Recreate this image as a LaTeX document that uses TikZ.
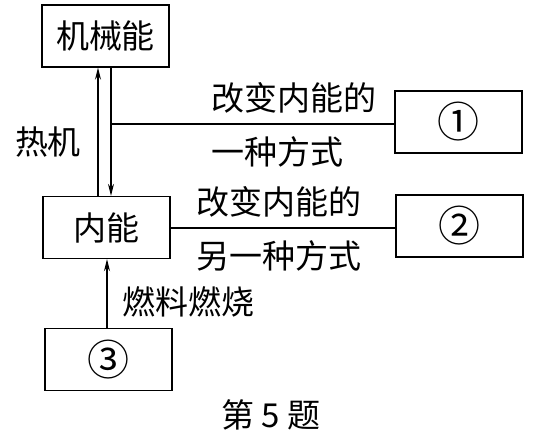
\documentclass[tikz,border=0pt]{standalone}
\usepackage{fontspec}
\setmainfont{Noto Sans CJK SC}
\usetikzlibrary{arrows.meta}
\begin{document}
\begin{tikzpicture}[x=1pt,y=-1pt,
  box/.style={draw,line width=1.3pt,minimum width=127pt,minimum height=62pt,inner sep=0pt,font=\fontsize{33}{35}\selectfont},
  num/.style={box,font=\fontsize{42}{44}\selectfont},
  lbl/.style={inner sep=0pt,font=\fontsize{33}{35}\selectfont},
  con/.style={line width=1.2pt},
  arr/.style={con,-{Stealth[length=12pt,width=6pt]}}]
\useasboundingbox (0,0) rectangle (541,440);
\node[box] (mech) at (105.5,36) {机械能};
\node[box] (inner) at (106.5,227.5) {内能};
\node[num] (one) at (458.5,122) {①};
\node[num] (two) at (459.5,226) {②};
\node[num] (three) at (108.5,359.5) {③};
\coordinate (j) at (111,124);
\draw[arr] (inner.north -| 98,0) -- (mech.south -| 98,0);
\draw[arr] (mech.south -| 111,0) -- (inner.north -| 111,0);
\draw[con] (j) -- (one.west |- j);
\draw[con] (inner.east |- 0,228) -- (two.west |- 0,228);
\draw[arr] (three.north -| 107,0) -- (inner.south -| 107,0);
\node[lbl] (hj) at (48,142) {热机};
\node[lbl,anchor=west] (a1) at (211,98) {改变内能的};
\node[lbl,anchor=west] (a2) at (211,152) {一种方式};
\node[lbl,anchor=west] (b1) at (196,202) {改变内能的};
\node[lbl,anchor=west] (b2) at (196,256) {另一种方式};
\node[lbl,anchor=west] (rl) at (122,302) {燃料燃烧};
\node[lbl] (cap) at (271,415) {第 5 题};
\end{tikzpicture}
\end{document}
